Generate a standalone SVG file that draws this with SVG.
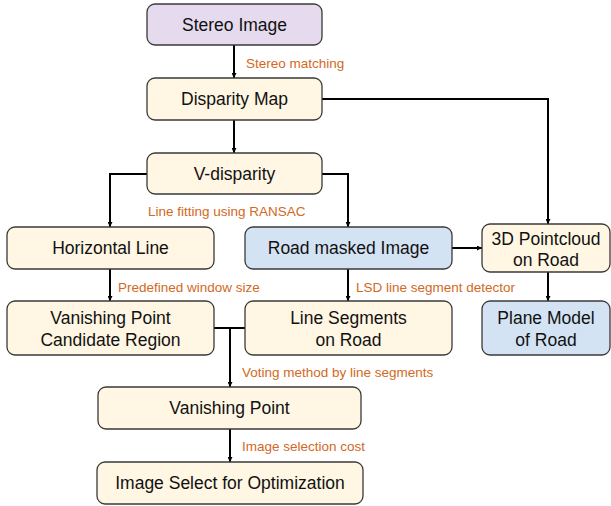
<svg xmlns="http://www.w3.org/2000/svg" width="611" height="506" viewBox="0 0 611 506">
  <defs>
    <marker id="arrow" viewBox="0 0 10 10" refX="10" refY="5" markerWidth="5" markerHeight="5" orient="auto" markerUnits="userSpaceOnUse">
      <path d="M0,0 L10,5 L0,10 z" fill="#000"/>
    </marker>
    <style>
      .box { stroke: #3a3a3a; stroke-width: 1.3; }
      .purple { fill: #e5daee; }
      .cream { fill: #fff6e3; }
      .blue { fill: #d4e3f3; }
      .t { font-family: "Liberation Sans", Arial, sans-serif; font-size: 17.5px; fill: #111; text-anchor: middle; }
      .lbl { font-family: "Liberation Sans", Arial, sans-serif; font-size: 13.5px; fill: #d2691e; }
      .edge { fill: none; stroke: #000; stroke-width: 2; }
    </style>
  </defs>
  <rect width="611" height="506" fill="#fff"/>

  <g id="connectors">
    <path class="edge" d="M234,45 V78" marker-end="url(#arrow)"/>
    <path class="edge" d="M234,120 V153" marker-end="url(#arrow)"/>
    <path class="edge" d="M322,99 H548 V224" marker-end="url(#arrow)"/>
    <path class="edge" d="M147,174 H110 V227" marker-end="url(#arrow)"/>
    <path class="edge" d="M322,174 H348 V227" marker-end="url(#arrow)"/>
    <path class="edge" d="M452,248 H482" marker-end="url(#arrow)"/>
    <path class="edge" d="M548,272 V301" marker-end="url(#arrow)"/>
    <path class="edge" d="M348,269 V301" marker-end="url(#arrow)"/>
    <path class="edge" d="M110,269 V301" marker-end="url(#arrow)"/>
    <path class="edge" d="M214,328 H245"/>
    <path class="edge" d="M230,328 V387" marker-end="url(#arrow)"/>
    <path class="edge" d="M230,429 V462" marker-end="url(#arrow)"/>
    <text class="lbl" x="246" y="68">Stereo matching</text>
    <text class="lbl" x="148" y="216">Line fitting using RANSAC</text>
    <text class="lbl" x="118" y="292">Predefined window size</text>
    <text class="lbl" x="356" y="292">LSD line segment detector</text>
    <text class="lbl" x="242" y="377">Voting method by line segments</text>
    <text class="lbl" x="242" y="451">Image selection cost</text>
  </g>

  <g id="stereo-image">
    <rect class="box purple" x="147" y="4" width="175" height="41" rx="8"/>
    <text class="t" x="234.5" y="31">Stereo Image</text>
  </g>
  <g id="disparity-map">
    <rect class="box cream" x="147" y="78" width="175" height="42" rx="8"/>
    <text class="t" x="234.5" y="105">Disparity Map</text>
  </g>
  <g id="v-disparity">
    <rect class="box cream" x="147" y="153" width="175" height="41" rx="8"/>
    <text class="t" x="234.5" y="180">V-disparity</text>
  </g>
  <g id="horizontal-line">
    <rect class="box cream" x="7" y="227" width="207" height="42" rx="8"/>
    <text class="t" x="110.5" y="254">Horizontal Line</text>
  </g>
  <g id="road-masked-image">
    <rect class="box blue" x="245" y="227" width="207" height="42" rx="8"/>
    <text class="t" x="348.5" y="254">Road masked Image</text>
  </g>
  <g id="pointcloud">
    <rect class="box cream" x="482" y="224" width="128" height="48" rx="8"/>
    <text class="t" x="546" y="245">3D Pointcloud</text>
    <text class="t" x="546" y="266">on Road</text>
  </g>
  <g id="vp-candidate">
    <rect class="box cream" x="7" y="301" width="207" height="54" rx="8"/>
    <text class="t" x="110.5" y="324">Vanishing Point</text>
    <text class="t" x="110.5" y="346">Candidate Region</text>
  </g>
  <g id="line-segments">
    <rect class="box cream" x="245" y="301" width="207" height="54" rx="8"/>
    <text class="t" x="348.5" y="324">Line Segments</text>
    <text class="t" x="348.5" y="346">on Road</text>
  </g>
  <g id="plane-model">
    <rect class="box blue" x="482" y="301" width="128" height="54" rx="8"/>
    <text class="t" x="546" y="324">Plane Model</text>
    <text class="t" x="546" y="346">of Road</text>
  </g>
  <g id="vanishing-point">
    <rect class="box cream" x="98" y="387" width="263" height="42" rx="8"/>
    <text class="t" x="229.5" y="414">Vanishing Point</text>
  </g>
  <g id="image-select">
    <rect class="box cream" x="97" y="462" width="266" height="42" rx="8"/>
    <text class="t" x="230" y="489">Image Select for Optimization</text>
  </g>
</svg>
